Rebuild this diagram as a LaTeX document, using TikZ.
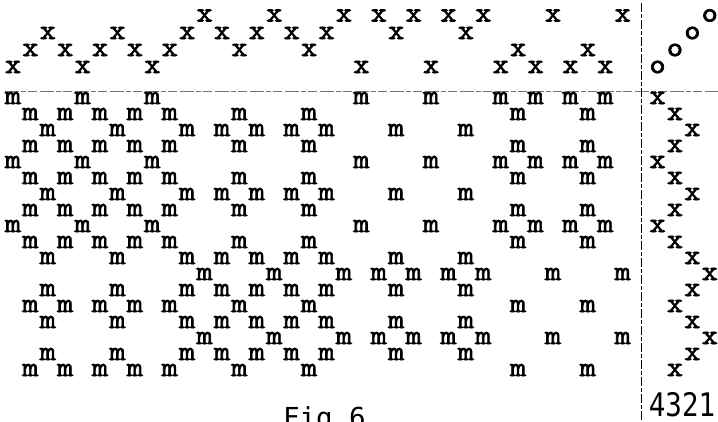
\documentclass[tikz,border=0pt]{standalone}
\usepackage{fontspec}
\newfontfamily\twfont[FakeBold=2.4,FakeStretch=1.1]{lmmono10-regular.otf}
\newfontfamily\lgfont{DejaVu Sans Mono}
\def\tyA{0,4,8,20,24,28,30,32,34}
\def\tyB{1,3,5,7,9,13,17,29,33}
\def\tyC{2,6,10,12,14,16,18,22,26}
\def\tyD{11,15,19,21,23,25,27,31,35}
\begin{document}
\begin{tikzpicture}[x=1pt,y=-1pt,
  tw/.style={font=\twfont\fontsize{28}{28}\selectfont, inner sep=0pt, outer sep=0pt},
  lg/.style={font=\lgfont\fontsize{27.5}{27.5}\selectfont, inner sep=0pt, outer sep=0pt},
  hline/.style={draw=black!55, line width=0.7pt, dash pattern=on 14pt off 2pt on 5pt off 2pt on 9pt off 3pt},
  vline/.style={draw=black, line width=0.9pt, dash pattern=on 9pt off 2pt on 4pt off 2pt}]
\useasboundingbox (0,0) rectangle (718,421);
\clip (0,0) rectangle (718,421);
\fill[white] (0,0) rectangle (718,421);
% rule lines
\coordinate (hl-a) at (5,91);
\coordinate (hl-b) at (718,91);
\coordinate (vl-a) at (641,3);
\coordinate (vl-b) at (641,421);
\path[hline] (hl-a) -- (hl-b);
\path[vline] (vl-a) -- (vl-b);
% top x lattice and o column
\foreach \l/\yy/\T in {0/67/A,1/50/B,2/33/C,3/15.5/D}{
  \expandafter\let\expandafter\L\csname ty\T\endcsname
  \foreach \c in \L {\node[tw] (tx-\l-\c) at ({13+17.42*\c},\yy) {x};}
  \node[tw] (o-\l) at ({13+17.42*(37+\l)},\yy) {o};
}
% m field and right x column
\foreach \k/\T/\r in {0/A/0,1/B/1,2/C/2,3/B/1,4/A/0,5/B/1,6/C/2,7/B/1,8/A/0,9/B/1,10/C/2,11/D/3,12/C/2,13/B/1,14/C/2,15/D/3,16/C/2,17/B/1}{
  \expandafter\let\expandafter\L\csname ty\T\endcsname
  \foreach \c in \L {\node[tw] (m-\k-\c) at ({13+17.42*\c},{98+16.0*\k}) {m};}
  \node[tw] (rx-\k) at ({13+17.42*(37+\r)},{98+16.0*\k}) {x};
}
% labels
\node[lg, anchor=base west] (fig) at (283,427) {Fig 6};
\node[lg, anchor=base] (num) at (682,416) {\scalebox{1}[1.18]{4321}};
\end{tikzpicture}
\end{document}
